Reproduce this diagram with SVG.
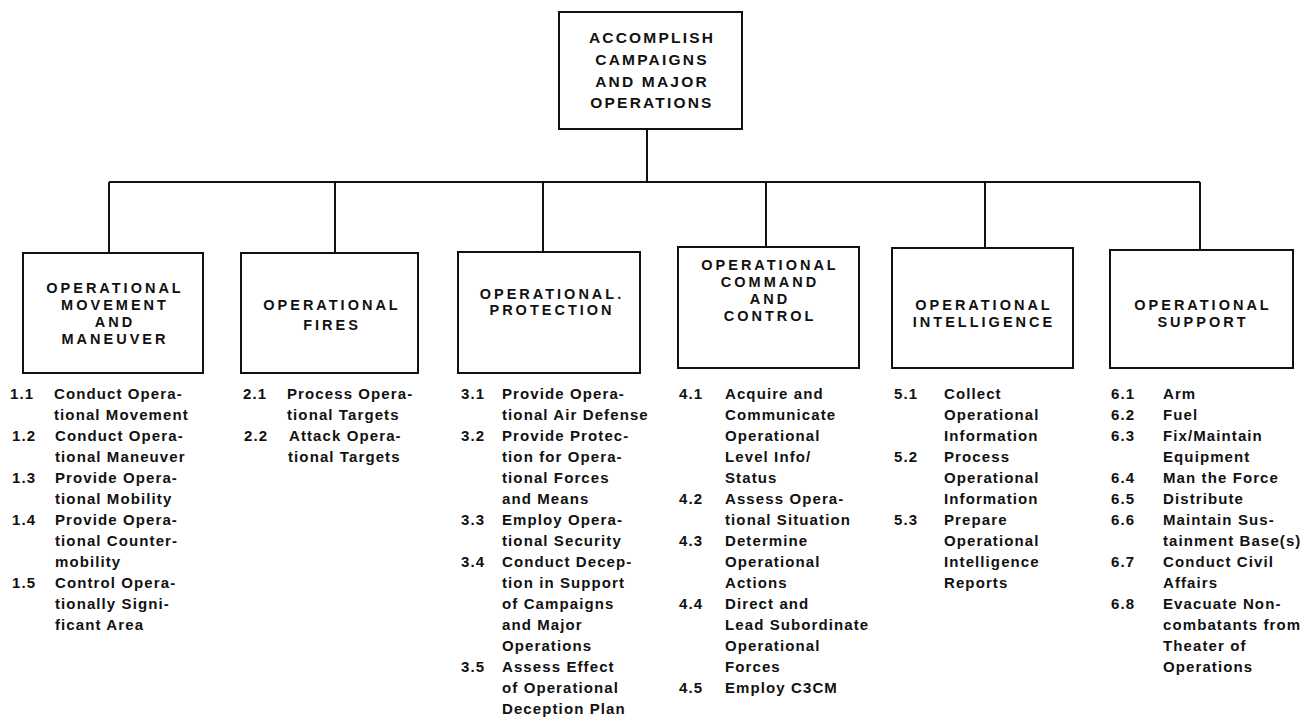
<svg xmlns="http://www.w3.org/2000/svg" width="1306" height="719" viewBox="0 0 1306 719">
<style>
.box{fill:#fff;stroke:#111;stroke-width:2}
.con{fill:none;stroke:#111;stroke-width:2}
.h{font-family:"Liberation Sans",Arial,sans-serif;font-weight:bold;font-size:14.5px;letter-spacing:3px;text-anchor:middle;fill:#111}
.t{font-family:"Liberation Sans",Arial,sans-serif;font-weight:bold;font-size:15.5px;letter-spacing:2.2px;text-anchor:middle;fill:#111}
.l{font-family:"Liberation Sans",Arial,sans-serif;font-weight:bold;font-size:15px;letter-spacing:1.1px;fill:#111}
</style>
<rect width="1306" height="719" fill="#fff"/>
<g id="connectors">
<path class="con" d="M647 129V182M109 182H1200M109 182V253M335 182V253M543 182V252M766 182V247M985 182V248M1200 182V250"/>
</g>
<g id="root">
<rect class="box" x="559" y="12" width="183" height="117"/>
<text class="t" x="652" y="43">ACCOMPLISH</text>
<text class="t" x="652" y="65">CAMPAIGNS</text>
<text class="t" x="652" y="87">AND MAJOR</text>
<text class="t" x="652" y="108">OPERATIONS</text>
</g>
<g id="n1">
<rect class="box" x="23" y="253" width="180" height="120"/>
<text class="h" x="115" y="293">OPERATIONAL</text>
<text class="h" x="115" y="310">MOVEMENT</text>
<text class="h" x="115" y="327">AND</text>
<text class="h" x="115" y="344">MANEUVER</text>
<g class="l">
<text x="10" y="399">1.1</text><text x="54" y="399">Conduct Opera-</text>
<text x="54" y="420">tional Movement</text>
<text x="12" y="441">1.2</text><text x="55" y="441">Conduct Opera-</text>
<text x="55" y="462">tional Maneuver</text>
<text x="12" y="483">1.3</text><text x="55" y="483">Provide Opera-</text>
<text x="55" y="504">tional Mobility</text>
<text x="12" y="525">1.4</text><text x="55" y="525">Provide Opera-</text>
<text x="55" y="546">tional Counter-</text>
<text x="55" y="567">mobility</text>
<text x="12" y="588">1.5</text><text x="55" y="588">Control Opera-</text>
<text x="55" y="609">tionally Signi-</text>
<text x="55" y="630">ficant Area</text>
</g>
</g>
<g id="n2">
<rect class="box" x="241" y="253" width="177" height="120"/>
<text class="h" x="332" y="310">OPERATIONAL</text>
<text class="h" x="332" y="330">FIRES</text>
<g class="l">
<text x="243" y="399">2.1</text><text x="287" y="399">Process Opera-</text>
<text x="287" y="420">tional Targets</text>
<text x="244" y="441">2.2</text><text x="289" y="441">Attack Opera-</text>
<text x="288" y="462">tional Targets</text>
</g>
</g>
<g id="n3">
<rect class="box" x="458" y="252" width="182" height="121"/>
<text class="h" x="552" y="299">OPERATIONAL.</text>
<text class="h" x="552" y="315">PROTECTION</text>
<g class="l">
<text x="461" y="399">3.1</text><text x="502" y="399">Provide Opera-</text>
<text x="502" y="420">tional Air  Defense</text>
<text x="461" y="441">3.2</text><text x="502" y="441">Provide Protec-</text>
<text x="502" y="462">tion for Opera-</text>
<text x="502" y="483">tional Forces</text>
<text x="502" y="504">and Means</text>
<text x="461" y="525">3.3</text><text x="502" y="525">Employ Opera-</text>
<text x="502" y="546">tional Security</text>
<text x="461" y="567">3.4</text><text x="502" y="567">Conduct Decep-</text>
<text x="502" y="588">tion in Support</text>
<text x="502" y="609">of Campaigns</text>
<text x="502" y="630">and Major</text>
<text x="502" y="651">Operations</text>
<text x="461" y="672">3.5</text><text x="502" y="672">Assess Effect</text>
<text x="502" y="693">of Operational</text>
<text x="502" y="714">Deception Plan</text>
</g>
</g>
<g id="n4">
<rect class="box" x="678" y="247" width="181" height="121"/>
<text class="h" x="770" y="270">OPERATIONAL</text>
<text class="h" x="770" y="287">COMMAND</text>
<text class="h" x="770" y="304">AND</text>
<text class="h" x="770" y="321">CONTROL</text>
<g class="l">
<text x="679" y="399">4.1</text><text x="725" y="399">Acquire and</text>
<text x="725" y="420">Communicate</text>
<text x="725" y="441">Operational</text>
<text x="725" y="462">Level Info/</text>
<text x="725" y="483">Status</text>
<text x="679" y="504">4.2</text><text x="725" y="504">Assess Opera-</text>
<text x="725" y="525">tional Situation</text>
<text x="679" y="546">4.3</text><text x="725" y="546">Determine</text>
<text x="725" y="567">Operational</text>
<text x="725" y="588">Actions</text>
<text x="679" y="609">4.4</text><text x="725" y="609">Direct and</text>
<text x="725" y="630">Lead Subordinate</text>
<text x="725" y="651">Operational</text>
<text x="725" y="672">Forces</text>
<text x="679" y="693">4.5</text><text x="725" y="693">Employ C3CM</text>
</g>
</g>
<g id="n5">
<rect class="box" x="892" y="248" width="181" height="120"/>
<text class="h" x="984" y="310">OPERATIONAL</text>
<text class="h" x="984" y="327">INTELLIGENCE</text>
<g class="l">
<text x="894" y="399">5.1</text><text x="944" y="399">Collect</text>
<text x="944" y="420">Operational</text>
<text x="944" y="441">Information</text>
<text x="894" y="462">5.2</text><text x="944" y="462">Process</text>
<text x="944" y="483">Operational</text>
<text x="944" y="504">Information</text>
<text x="894" y="525">5.3</text><text x="944" y="525">Prepare</text>
<text x="944" y="546">Operational</text>
<text x="944" y="567">Intelligence</text>
<text x="944" y="588">Reports</text>
</g>
</g>
<g id="n6">
<rect class="box" x="1110" y="250" width="183" height="118"/>
<text class="h" x="1203" y="310">OPERATIONAL</text>
<text class="h" x="1203" y="327">SUPPORT</text>
<g class="l">
<text x="1111" y="399">6.1</text><text x="1163" y="399">Arm</text>
<text x="1111" y="420">6.2</text><text x="1163" y="420">Fuel</text>
<text x="1111" y="441">6.3</text><text x="1163" y="441">Fix/Maintain</text>
<text x="1163" y="462">Equipment</text>
<text x="1111" y="483">6.4</text><text x="1163" y="483">Man the Force</text>
<text x="1111" y="504">6.5</text><text x="1163" y="504">Distribute</text>
<text x="1111" y="525">6.6</text><text x="1163" y="525">Maintain Sus-</text>
<text x="1163" y="546">tainment Base(s)</text>
<text x="1111" y="567">6.7</text><text x="1163" y="567">Conduct Civil</text>
<text x="1163" y="588">Affairs</text>
<text x="1111" y="609">6.8</text><text x="1163" y="609">Evacuate Non-</text>
<text x="1163" y="630">combatants from</text>
<text x="1163" y="651">Theater of</text>
<text x="1163" y="672">Operations</text>
</g>
</g>
</svg>
